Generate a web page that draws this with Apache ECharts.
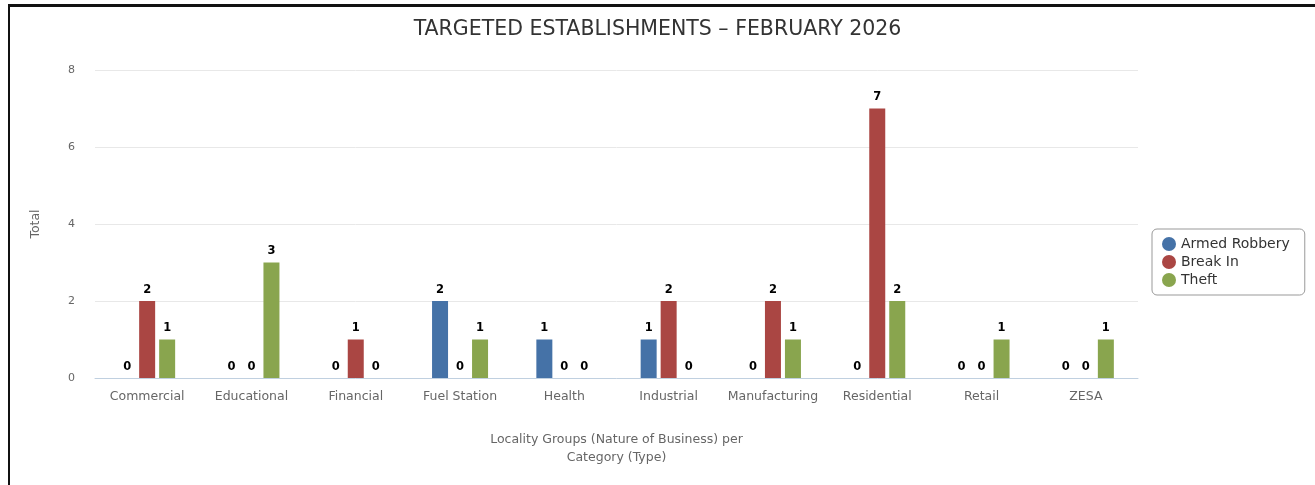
<!DOCTYPE html>
<html><head><meta charset="utf-8">
<script src="https://cdn.jsdelivr.net/npm/echarts@6/dist/echarts.min.js"></script>
<style>
html,body{margin:0;padding:0;background:#fff;}
#frame{position:absolute;left:8px;top:4px;width:1307px;height:481px;border-left:2px solid #111;border-top:3px solid #111;box-sizing:border-box;}
#c{position:absolute;left:0;top:0;width:1315px;height:485px;}
</style></head>
<body>
<div id="frame"></div>
<div id="c"></div>
<script>
var categories = ['Commercial','Educational','Financial','Fuel Station','Health','Industrial','Manufacturing','Residential','Retail','ZESA'];
var armedRobbery = [0,0,0,2,1,1,0,0,0,0];
var breakIn      = [2,0,1,0,0,2,2,7,0,0];
var theft        = [1,3,0,1,0,0,1,2,1,1];
var seriesNames  = ['Armed Robbery','Break In','Theft'];
var colors = ['#4572A7','#AA4643','#89A54E'];
var FONT = '"DejaVu Sans", sans-serif';

var chart = echarts.init(document.getElementById('c'));
function mk(name, data, color){
  return {
    name: name, type: 'bar', data: data, barWidth: 16, barGap: '25%',
    itemStyle: {color: color},
    label: {show: true, position: 'top', distance: 5, color: '#000', fontWeight: 'bold', fontSize: 11.5, fontFamily: FONT}
  };
}
chart.setOption({
  animation: false,
  textStyle: {fontFamily: FONT},
  title: {text: 'TARGETED ESTABLISHMENTS – FEBRUARY 2026', left: 'center', top: 14,
    textStyle: {fontSize: 20.5, fontWeight: 'normal', color: '#333', fontFamily: FONT}},
  legend: {orient: 'vertical', left: 1152, top: 229, icon: 'circle', itemWidth: 14, itemHeight: 14, itemGap: 4,
    borderColor: '#999', borderWidth: 1, borderRadius: 5, padding: [8, 15, 8, 10],
    textStyle: {fontSize: 14, color: '#333', fontFamily: FONT}, data: seriesNames},
  grid: {left: 95, right: 177, top: 70, bottom: 107, containLabel: false},
  xAxis: {type: 'category', data: categories,
    axisLine: {lineStyle: {color: '#C0D0E0'}}, axisTick: {show: false},
    axisLabel: {color: '#666', fontSize: 12.5, margin: 12, interval: 0, fontFamily: FONT},
    name: 'Locality Groups (Nature of Business) per\nCategory (Type)', nameLocation: 'middle', nameGap: 53,
    nameTextStyle: {color: '#666', fontSize: 12.5, lineHeight: 18, fontFamily: FONT}},
  yAxis: {type: 'value', min: 0, max: 8, interval: 2,
    axisLabel: {color: '#666', fontSize: 11, margin: 20, fontFamily: FONT},
    splitLine: {lineStyle: {color: '#E8E8E8'}},
    name: 'Total', nameLocation: 'middle', nameGap: 53, nameRotate: 90,
    nameTextStyle: {color: '#666', fontSize: 12.5, fontFamily: FONT}},
  series: [mk(seriesNames[0], armedRobbery, colors[0]), mk(seriesNames[1], breakIn, colors[1]), mk(seriesNames[2], theft, colors[2])]
});
</script>
</body></html>
